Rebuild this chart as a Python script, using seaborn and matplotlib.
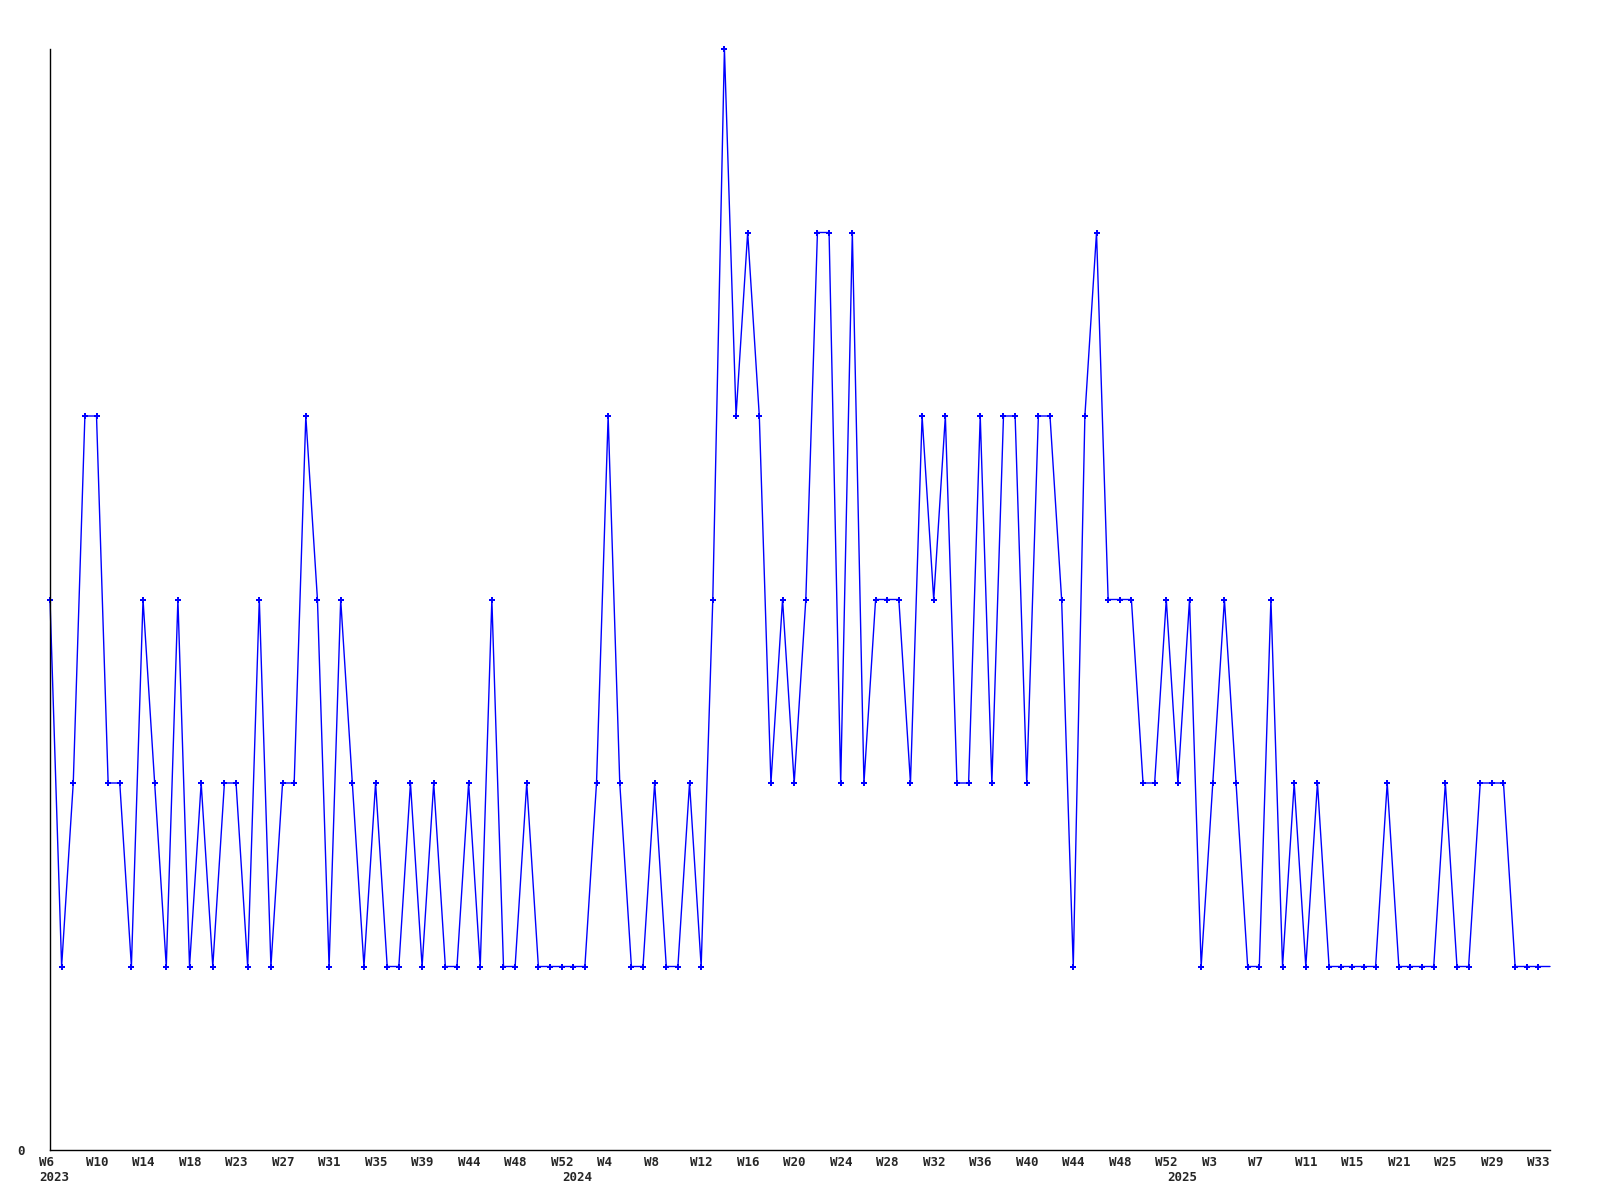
import matplotlib
matplotlib.use("Agg")
import matplotlib.pyplot as plt
import matplotlib.transforms as mtransforms
import seaborn as sns
import pandas as pd

# weekly counts, W6 2023 .. W33 2025
counts = [
    3, 1, 2, 4, 4, 2, 2, 1, 3, 2, 1, 3, 1, 2, 1, 2, 2, 1, 3, 1, 2, 2, 4, 3,
    1, 3, 2, 1, 2, 1, 1, 2, 1, 2, 1, 1, 2, 1, 3, 1, 1, 2, 1, 1, 1, 1,
    1, 2, 4, 2, 1, 1, 2, 1, 1, 2, 1, 3, 6, 4, 5, 4, 2, 3, 2, 3, 5,
    5, 2, 5, 2, 3, 3, 3, 2, 4, 3, 4, 2, 2, 4, 2, 4, 4, 2, 4, 4, 3, 1, 4, 5,
    3, 3, 3, 2, 2, 3, 2, 3, 1, 2, 3, 2, 1, 1, 3, 1, 2, 1, 2, 1, 1, 1, 1,
    1, 2, 1, 1, 1, 1, 2, 1, 1, 2, 2, 2, 1, 1, 1, 1,
]
week_labels = ['W6', 'W10', 'W14', 'W18', 'W23', 'W27', 'W31', 'W35', 'W39', 'W44',
               'W48', 'W52', 'W4', 'W8', 'W12', 'W16', 'W20', 'W24', 'W28', 'W32',
               'W36', 'W40', 'W44', 'W48', 'W52', 'W3', 'W7', 'W11', 'W15', 'W21',
               'W25', 'W29', 'W33']
years = ['2023', '2024', '2025']
year_start = [0, 45, 97]   # index of first week of each year

df = pd.DataFrame({'idx': range(len(counts)), 'count': counts})

sns.set_style("white")
plt.rcParams['font.family'] = ['DejaVu Sans Mono']
plt.rcParams['font.weight'] = 'bold'

fig = plt.figure(figsize=(16, 12), dpi=100)
ax = fig.add_axes([50 / 1600, 50 / 1200, 1500 / 1600, 1101 / 1200])

sns.lineplot(data=df, x='idx', y='count', ax=ax, color='#0000ff', linewidth=1,
             marker='P', markersize=4, markeredgewidth=0, clip_on=False,
             markevery=list(range(len(counts) - 1)))

ax.set_xlim(0, len(counts) - 1)
ax.set_ylim(0, max(counts))
ax.set_xlabel('')
ax.set_ylabel('')

ax.set_yticks([0])
ax.set_yticklabels(['0'])
ax.tick_params(axis='y', length=0, pad=18, labelsize=9)

ax.xaxis.remove_overlapping_locs = False
ax.set_xticks(range(0, len(counts), 4))
ax.set_xticklabels(week_labels, ha='left')
ax.set_xticks(year_start, minor=True)
ax.set_xticklabels(years, minor=True, ha='left')
ax.tick_params(axis='x', which='major', length=0, pad=4, labelsize=9)
ax.tick_params(axis='x', which='minor', length=0, pad=15, labelsize=9)

shift = mtransforms.ScaledTranslation(-11 / 100, 0, fig.dpi_scale_trans)
for lbl in ax.get_xticklabels(which='both'):
    lbl.set_transform(lbl.get_transform() + shift)
    lbl.set_fontweight('bold')
for lbl in ax.get_yticklabels():
    lbl.set_fontweight('bold')

sns.despine(ax=ax)
for s in ['left', 'bottom']:
    ax.spines[s].set_color('black')
    ax.spines[s].set_linewidth(1)

fig.savefig('out.png', dpi=100, facecolor='white')
